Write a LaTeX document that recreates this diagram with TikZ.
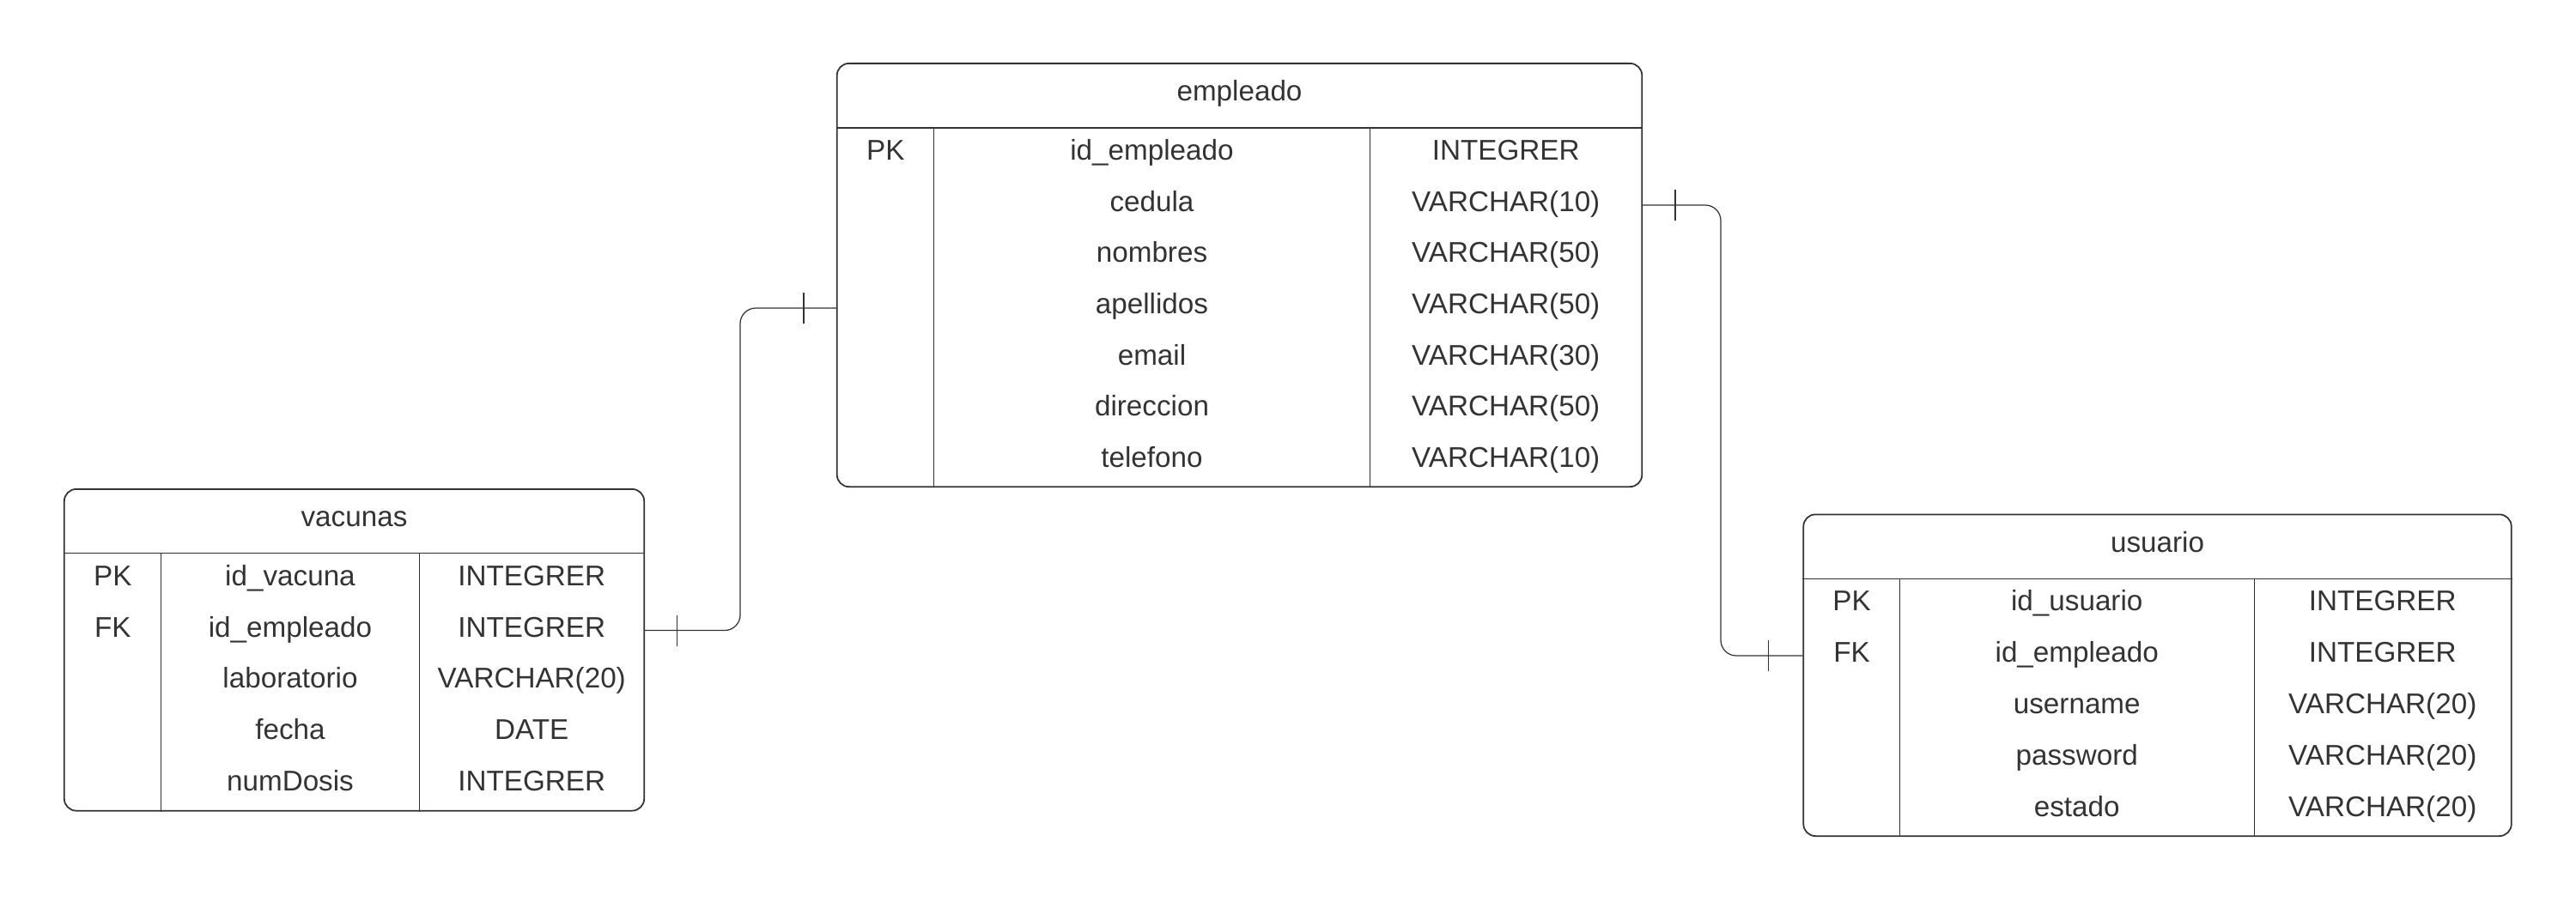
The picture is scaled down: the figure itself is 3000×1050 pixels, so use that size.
\documentclass[tikz,border=0pt]{standalone}
\usepackage{fontspec}
\setmainfont{Liberation Sans}
\usetikzlibrary{calc}
\definecolor{ink}{HTML}{333333}
\begin{document}
\begin{tikzpicture}[x=0.01cm,y=-0.01cm,
  tbl/.style={draw=ink, line width=0.5pt, rounded corners=0.14cm, inner sep=0pt},
  sep/.style={draw=ink, line width=0.3pt},
  cell/.style={anchor=base, inner sep=0pt, text=ink, font=\fontsize{9.45pt}{11pt}\selectfont},
  conn/.style={draw=ink, line width=0.35pt, rounded corners=0.18cm},
  tickmark/.style={draw=ink, line width=0.5pt}]
\useasboundingbox (0,0) rectangle (3000,1050);

% ---------------- empleado ----------------
\node[tbl, minimum width=9.37cm, minimum height=4.93cm] (emp) at (1443.5,320.5) {};
\draw[sep] (emp.west |- 0,149) -- (emp.east |- 0,149);
\draw[sep] (1087.5,149) -- (emp.south -| 1087.5,0);
\draw[sep] (1595.5,149) -- (emp.south -| 1595.5,0);
\node[cell] (emp-title) at (1443.5,117.5) {empleado};
\node[cell] (emp-k1) at (1031.25,186.3) {PK};
\node[cell] (emp-n1) at (1341.5,186.3) {id\_empleado};
\node[cell] (emp-t1) at (1753.75,186.3) {INTEGRER};
\node[cell] (emp-n2) at (1341.5,246.0) {cedula};
\node[cell] (emp-t2) at (1753.75,246.0) {VARCHAR(10)};
\node[cell] (emp-n3) at (1341.5,305.7) {nombres};
\node[cell] (emp-t3) at (1753.75,305.7) {VARCHAR(50)};
\node[cell] (emp-n4) at (1341.5,365.4) {apellidos};
\node[cell] (emp-t4) at (1753.75,365.4) {VARCHAR(50)};
\node[cell] (emp-n5) at (1341.5,425.1) {email};
\node[cell] (emp-t5) at (1753.75,425.1) {VARCHAR(30)};
\node[cell] (emp-n6) at (1341.5,484.8) {direccion};
\node[cell] (emp-t6) at (1753.75,484.8) {VARCHAR(50)};
\node[cell] (emp-n7) at (1341.5,544.5) {telefono};
\node[cell] (emp-t7) at (1753.75,544.5) {VARCHAR(10)};

% ---------------- vacunas ----------------
\node[tbl, minimum width=6.75cm, minimum height=3.745cm] (vac) at (412.5,757.25) {};
\draw[sep] (vac.west |- 0,644.6) -- (vac.east |- 0,644.6);
\draw[sep] (187.5,644.6) -- (vac.south -| 187.5,0);
\draw[sep] (488.5,644.6) -- (vac.south -| 488.5,0);
\node[cell] (vac-title) at (412.5,613.5) {vacunas};
\node[cell] (vac-k1) at (131.25,682.1) {PK};
\node[cell] (vac-n1) at (338,682.1) {id\_vacuna};
\node[cell] (vac-t1) at (619.25,682.1) {INTEGRER};
\node[cell] (vac-k2) at (131.25,742.0) {FK};
\node[cell] (vac-n2) at (338,742.0) {id\_empleado};
\node[cell] (vac-t2) at (619.25,742.0) {INTEGRER};
\node[cell] (vac-n3) at (338,801.9) {laboratorio};
\node[cell] (vac-t3) at (619.25,801.9) {VARCHAR(20)};
\node[cell] (vac-n4) at (338,861.8) {fecha};
\node[cell] (vac-t4) at (619.25,861.8) {DATE};
\node[cell] (vac-n5) at (338,921.7) {numDosis};
\node[cell] (vac-t5) at (619.25,921.7) {INTEGRER};

% ---------------- usuario ----------------
\node[tbl, minimum width=8.24cm, minimum height=3.745cm] (usu) at (2512.5,786.75) {};
\draw[sep] (usu.west |- 0,674.5) -- (usu.east |- 0,674.5);
\draw[sep] (2212.5,674.5) -- (usu.south -| 2212.5,0);
\draw[sep] (2625,674.5) -- (usu.south -| 2625,0);
\node[cell] (usu-title) at (2512.5,643) {usuario};
\node[cell] (usu-k1) at (2156.5,711.9) {PK};
\node[cell] (usu-n1) at (2418.75,711.9) {id\_usuario};
\node[cell] (usu-t1) at (2774.75,711.9) {INTEGRER};
\node[cell] (usu-k2) at (2156.5,771.8) {FK};
\node[cell] (usu-n2) at (2418.75,771.8) {id\_empleado};
\node[cell] (usu-t2) at (2774.75,771.8) {INTEGRER};
\node[cell] (usu-n3) at (2418.75,831.7) {username};
\node[cell] (usu-t3) at (2774.75,831.7) {VARCHAR(20)};
\node[cell] (usu-n4) at (2418.75,891.6) {password};
\node[cell] (usu-t4) at (2774.75,891.6) {VARCHAR(20)};
\node[cell] (usu-n5) at (2418.75,951.5) {estado};
\node[cell] (usu-t5) at (2774.75,951.5) {VARCHAR(20)};

% ---------------- connection points ----------------
\coordinate (vac-fk) at (vac.east |- 0,734.5);
\coordinate (emp-ap) at (emp.west |- 0,359);
\coordinate (emp-ce) at (emp.east |- 0,239);
\coordinate (usu-fk) at (usu.west |- 0,764);

% ---------------- connectors ----------------
\draw[conn] (vac-fk) -| (862,359) -- (emp-ap);
\draw[tickmark] ($(vac-fk)+(37.5,-18)$) -- ++(0,36);
\draw[tickmark] ($(emp-ap)+(-38,-18)$) -- ++(0,36);

\draw[conn] (emp-ce) -| (2004,764) -- (usu-fk);
\draw[tickmark] ($(emp-ce)+(38,-18)$) -- ++(0,36);
\draw[tickmark] ($(usu-fk)+(-40,-18)$) -- ++(0,36);
\end{tikzpicture}
\end{document}
